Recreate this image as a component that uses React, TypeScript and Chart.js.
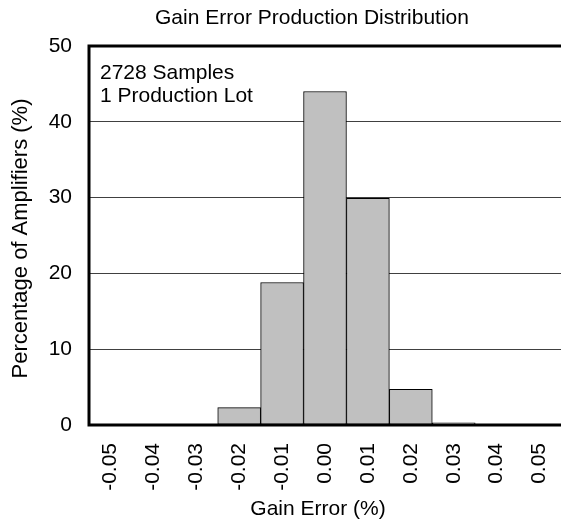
import { useEffect, useRef } from 'react';
import { Chart, registerables } from 'chart.js';

Chart.register(...registerables);

const FONT = '"Liberation Sans", Arial, sans-serif';

const categories = ['-0.05', '-0.04', '-0.03', '-0.02', '-0.01', '0.00', '0.01', '0.02', '0.03', '0.04', '0.05'];
const percentages = [0, 0, 0, 2.3, 18.8, 44.0, 29.9, 4.7, 0.3, 0, 0];
const yMin = 0;
const yMax = 50;
const yStep = 10;
const titleText = 'Gain Error Production Distribution';
const noteLines = ['2728 Samples', '1 Production Lot'];
const xTitle = 'Gain Error (%)';
const yTitle = 'Percentage of Amplifiers (%)';

export default function App() {
  const ref = useRef<HTMLCanvasElement>(null);

  useEffect(() => {
    if (!ref.current) return;
    const overlay = {
      id: 'overlay',
      afterDraw(chart: any) {
        const { ctx, chartArea: a } = chart;
        ctx.save();
        ctx.strokeStyle = '#000';
        ctx.lineWidth = 3;
        ctx.beginPath();
        ctx.moveTo(a.left - 1.5, a.top);
        ctx.lineTo(a.right, a.top);
        ctx.moveTo(a.left, a.top - 1.5);
        ctx.lineTo(a.left, a.bottom + 1.5);
        ctx.moveTo(a.left - 1.5, a.bottom);
        ctx.lineTo(a.right, a.bottom);
        ctx.stroke();

        ctx.fillStyle = '#000';
        ctx.font = `21px ${FONT}`;
        ctx.textAlign = 'center';
        ctx.textBaseline = 'middle';
        ctx.fillText(titleText, 312, 18);
        ctx.fillText(xTitle, 318, 509);

        ctx.textAlign = 'left';
        ctx.fillText(noteLines[0], a.left + 11, 73);
        ctx.fillText(noteLines[1], a.left + 11, 96);

        ctx.font = `22px ${FONT}`;
        ctx.translate(21, (a.top + a.bottom) / 2 + 3);
        ctx.rotate(-Math.PI / 2);
        ctx.textAlign = 'center';
        ctx.fillText(yTitle, 0, 0);
        ctx.restore();
      },
    };

    const chart = new Chart(ref.current, {
      type: 'bar',
      data: {
        labels: categories,
        datasets: [
          {
            data: percentages,
            backgroundColor: '#c0c0c0',
            borderColor: '#000',
            borderWidth: 1,
            borderSkipped: false,
            barPercentage: 1,
            categoryPercentage: 1,
          },
        ],
      },
      options: {
        responsive: false,
        animation: false,
        devicePixelRatio: 1,
        layout: { padding: { top: 46, left: 0, right: 0, bottom: 0 } },
        plugins: {
          legend: { display: false },
          title: { display: false },
          tooltip: { enabled: false },
        },
        scales: {
          x: {
            grid: { display: false, drawTicks: false },
            border: { display: false },
            ticks: {
              autoSkip: false,
              minRotation: 90,
              maxRotation: 90,
              padding: 18,
              color: '#000',
              font: { family: FONT, size: 21 },
            },
            afterFit: (s: any) => {
              s.height = 103;
              s.paddingLeft = 0;
              s.paddingRight = 0;
            },
          },
          y: {
            min: yMin,
            max: yMax,
            grid: {
              drawTicks: false,
              lineWidth: 1,
              color: (c: any) =>
                c.tick && (c.tick.value === yMin || c.tick.value === yMax) ? 'rgba(0,0,0,0)' : '#404040',
            },
            border: { display: false },
            ticks: {
              stepSize: yStep,
              padding: 17,
              color: '#000',
              font: { family: FONT, size: 21 },
            },
            afterFit: (s: any) => {
              s.width = 89;
              s.paddingTop = 0;
              s.paddingBottom = 0;
            },
          },
        },
      },
      plugins: [overlay],
    });
    return () => chart.destroy();
  }, []);

  return (
    <div style={{ position: 'absolute', left: 0, top: 0, width: 561, height: 528, background: '#fff' }}>
      <canvas ref={ref} width={561} height={528} style={{ width: 561, height: 528, display: 'block' }} />
    </div>
  );
}
